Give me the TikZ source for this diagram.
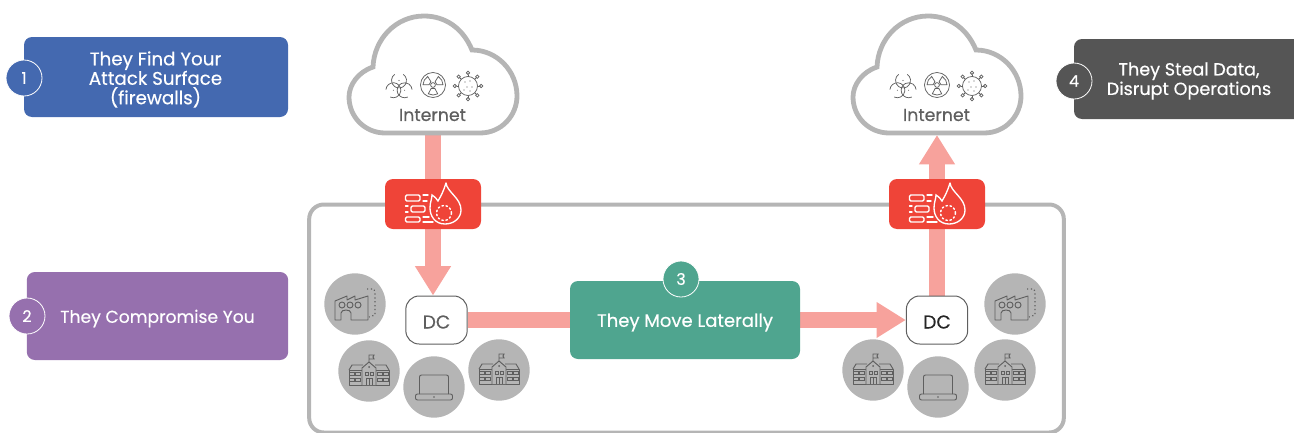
\documentclass[tikz,border=0pt]{standalone}
\usepackage{xcolor}
\usepackage{fontspec}
\setmainfont{Poppins}[FakeBold=0.45]
\usetikzlibrary{arrows.meta,backgrounds}

\definecolor{cardblue}{HTML}{4469B0}
\definecolor{cardpurple}{HTML}{9670AE}
\definecolor{cardgrey}{HTML}{555555}
\definecolor{cardgreen}{HTML}{4FA58F}
\definecolor{wallred}{HTML}{EF4438}
\definecolor{flowpink}{HTML}{F7A29C}
\definecolor{edgegrey}{HTML}{B5B5B5}
\definecolor{icongrey}{HTML}{5F5F5F}

\tikzset{
  every pic/.style={yscale=-1},
  card/.style={rounded corners=6pt,inner sep=0pt},
  cardtext/.style={inner sep=0pt,text=white,align=center,font=\fontsize{13.2}{14.6}\selectfont},
  badge/.style={circle,draw=white,line width=0.6pt,minimum size=27pt,inner sep=0pt,text=white,font=\fontsize{12}{13}\selectfont},
  dcbox/.style={draw=icongrey,line width=0.75pt,fill=white,rounded corners=10pt,minimum width=46pt,minimum height=36pt,inner sep=0pt},
  dctext/.style={inner sep=0pt,font=\fontsize{14}{16}\selectfont},
  nettext/.style={inner sep=0pt,text=icongrey,font=\fontsize{13}{15}\selectfont},
  site/.style={circle,fill=edgegrey,minimum size=46pt,inner sep=0pt},
  wall/.style={fill=wallred,rounded corners=6pt,minimum width=72pt,minimum height=37.5pt,inner sep=0pt},
  flow/.style={draw=flowpink,line width=12.6pt},
  flowtip/.style={flow,-{Triangle[width=25.5pt,length=22pt]}},
  ico/.style={draw=icongrey,line width=0.55pt},
  cloudpath/.pic={
    \draw [draw=edgegrey,line width=3.6pt,fill=white] (-47,58) -- (48,58) .. controls (70,58) and (85,40) .. (85,21) .. controls (85,-4) and (65,-25) .. (40,-25) .. controls (31,-47) and (13,-59) .. (-8,-59) .. controls (-36,-59) and (-58,-36) .. (-59,-8) .. controls (-74,-3) and (-83,10) .. (-83,22) .. controls (-83,42) and (-67,58) .. (-47,58) -- cycle ;
  },
  biohazard/.pic={
    \foreach \a in {270,30,150}{
      \draw [ico] (\a:6.5) ++(\a+35:7.5) arc (\a+35:\a+325:7.5) ;
      \fill [icongrey] (\a:6.5) circle (0.6) ;
    }
  },
  radiation/.pic={
    \draw [ico] (0,0) circle (12.5) ;
    \draw [ico] (0,0) circle (2.4) ;
    \foreach \a in {90,210,330}{
      \draw [ico] (\a-28:4) -- (\a-28:10) arc (\a-28:\a+28:10) -- (\a+28:4) arc (\a+28:\a-28:4) -- cycle ;
    }
  },
  virus/.pic={
    \draw [ico] (0,0) circle (9.5) ;
    \foreach \a in {0,45,...,315}{
      \draw [ico] (\a:9.5) -- (\a:11.5) ;
      \draw [ico] (\a:13.2) circle (1.7) ;
    }
    \foreach \p in {(-3,-4),(2,-5),(4,1),(-1,1),(-4,4),(2,5)}{
      \fill [icongrey] \p circle (0.7) ;
    }
  },
  firewall/.pic={
    \begin{scope}[draw=white,line width=1pt,line cap=round]
    \draw [rounded corners=1pt] (-27.5,-9) rectangle (-13,-3) ;
    \draw (-10,-9) -- (-5,-9) (-10,-3) -- (-6,-3) ;
    \draw (-27.5,2) -- (-25,2) (-27.5,8) -- (-25,8) ;
    \draw [rounded corners=1pt] (-22,2) rectangle (-8,8) ;
    \draw [rounded corners=1pt] (-27.5,13) rectangle (-13,18) ;
    \draw (-10,13) -- (-4,13) (-10,18) -- (0,18) ;
    \draw (13,-21) .. controls (14,-12) and (28,-6) .. (28,6) .. controls (28,14) and (21,20) .. (12,20) .. controls (2,20) and (-3,12) .. (-3,4) .. controls (-3,-2) and (-1,-5) .. (-1,-9) .. controls (2,-7) and (4,-5) .. (5,-3) .. controls (8,-8) and (11,-14) .. (13,-21) ;
    \draw [dotted,line width=1.1pt] (11,9) circle (7.5) ;
    \end{scope}
  },
  factory/.pic={
    \draw [ico,line width=0.7pt,line join=round] (-4,16) -- (13,16) -- (13,-8) -- (0,-4) -- (0,-8) -- (-8,-4) -- (-8,-8) -- (-20,-3) -- (-20,16) -- (-14,16) -- (-14,9) .. controls (-14,5) and (-4,5) .. (-4,9) -- cycle ;
    \foreach \x in {-13,-5,3}{
      \draw [ico,line width=0.7pt] (\x,1) circle (3) ;
    }
    \draw [ico,line width=0.9pt,dotted] (12,-15) -- (19,-15) -- (20,-11) -- (20,11) -- (14,13) ;
  },
  school/.pic={
    \draw [ico,line width=0.7pt,line join=round] (-20,14) -- (20,14) -- (20,-1) -- (-20,-1) -- cycle ;
    \draw [ico,line width=0.7pt,line join=round] (-20,-1) -- (-17,-6) -- (-6,-6) (20,-1) -- (17,-6) -- (6,-6) ;
    \draw [ico,line width=0.7pt,line join=round,fill=edgegrey] (-7,14) -- (-7,-3) -- (0,-9) -- (7,-3) -- (7,14) ;
    \draw [ico,line width=0.7pt] (0,-9) -- (0,-16) -- (5,-16) -- (4,-14) -- (5,-12) -- (0,-12) ;
    \draw [ico,line width=0.7pt] (-3,14) -- (-3,7) -- (3,7) -- (3,14) (0,7) -- (0,14) ;
    \foreach \x in {-17,-11,11,17}{
      \foreach \y in {3,9}{
        \draw [ico] (\x-2.5,\y-1.5) rectangle (\x+2.5,\y+1.5) ;
      }
    }
    \draw [ico] (-4,1) rectangle (-1,4) (1,1) rectangle (4,4) ;
    \fill [icongrey] (0,-4) circle (1) ;
  },
  laptop/.pic={
    \draw [ico,line width=0.7pt,rounded corners=1.5pt] (-14.5,7) -- (-14.5,-12) -- (14.5,-12) -- (14.5,7) ;
    \draw [ico,line width=0.7pt,rounded corners=1.5pt] (-18.5,7) rectangle (18.5,13) ;
    \fill [icongrey] (0,10) circle (0.8) ;
  },
}

\begin{document}
\begin{tikzpicture}[x=0.75pt,y=0.75pt,yscale=-1,xscale=1]
\useasboundingbox (0,0) rectangle (1294,432);

%Shape: Rounded Rect
\draw (686.5,318.5) node [draw=edgegrey,line width=3pt,rounded corners=11pt,minimum width=566pt,minimum height=171pt,inner sep=0pt] (perimeter) {};

%Shape: Cloud
\coordinate (cloudin) at (433,133);
\coordinate (cloudout) at (937,135);
\pic at (432,75) {cloudpath};
\pic at (936,75) {cloudpath};
\pic at (399,87) {biohazard};
\pic at (433,85) {radiation};
\pic at (468,86) {virus};
\pic at (903,87) {biohazard};
\pic at (937,85) {radiation};
\pic at (972,86) {virus};

% Text Node
\draw (432.5,115) node [nettext] (netin) {Internet};
\draw (936.5,115) node [nettext] (netout) {Internet};

%Shape: Firewall
\draw (433,204) node [wall] (wallin) {};
\draw (937,204) node [wall] (wallout) {};
\pic at (433,204) {firewall};
\pic at (937,204) {firewall};

%Shape: DC
\draw (436.5,320) node [dcbox] (dcin) {};
\draw (937,320) node [dcbox] (dcout) {};
\draw (436.5,322) node [dctext,text=icongrey] (dcinlabel) {DC};
\draw (937,322) node [dctext,text=black!85] (dcoutlabel) {DC};

%Shape: Sites
\draw (355,304) node [site] (factoryin) {};
\draw (369,371) node [site] (schoolin) {};
\draw (434,387) node [site] (laptopin) {};
\draw (499,370) node [site] (schoolinb) {};
\draw (873,370) node [site] (schoolout) {};
\draw (938,387) node [site] (laptopout) {};
\draw (1005,370) node [site] (schooloutb) {};
\draw (1015,304) node [site] (factoryout) {};
\pic at (factoryin) {factory};
\pic at (schoolin) {school};
\pic at (laptopin) {laptop};
\pic at (schoolinb) {school};
\pic at (schoolout) {school};
\pic at (laptopout) {laptop};
\pic at (schooloutb) {school};
\pic at (factoryout) {factory};

%Shape: Lateral box
\draw (685,320) node [card,fill=cardgreen,minimum width=172.5pt,minimum height=58.5pt] (lateral) {};
\draw (685,322.5) node [cardtext,font=\fontsize{13.5}{14.6}\selectfont] (laterallabel) {They Move Laterally};
\draw (681,279) node [badge,fill=cardgreen] (badgethree) {3};

%Shape: Cards
\draw (156,77) node [card,fill=cardblue,minimum width=198pt,minimum height=60pt] (cardone) {};
\draw (155.5,79.5) node [cardtext,font=\fontsize{13.7}{14.6}\selectfont] (cardonelabel) {They Find Your\\Attack Surface\\(firewalls)};
\draw (24,78) node [badge,fill=cardblue] (badgeone) {1};
\draw (157.5,316) node [card,fill=cardpurple,minimum width=196pt,minimum height=66pt] (cardtwo) {};
\draw (157.5,318.5) node [cardtext,font=\fontsize{12.9}{14.6}\selectfont] (cardtwolabel) {They Compromise You};
\draw (27,316) node [badge,fill=cardpurple] (badgetwo) {2};
\draw (1190,79) node [card,fill=cardgrey,minimum width=174pt,minimum height=60pt] (cardfour) {};
\draw (1189,81) node [cardtext] (cardfourlabel) {They Steal Data,\\Disrupt Operations};
\draw (1074,81) node [badge,fill=cardgrey] (badgefour) {4};

%Straight Lines
\begin{scope}[on background layer]
\draw [flowtip] (cloudin) -- (dcin.north -| cloudin) ;
\draw [flowtip] (dcout.north) -- (cloudout) ;
\draw [flow] (dcin.east) -- (lateral.west) ;
\draw [flowtip] (lateral.east) -- (dcout.west) ;
\end{scope}

\end{tikzpicture}
\end{document}
